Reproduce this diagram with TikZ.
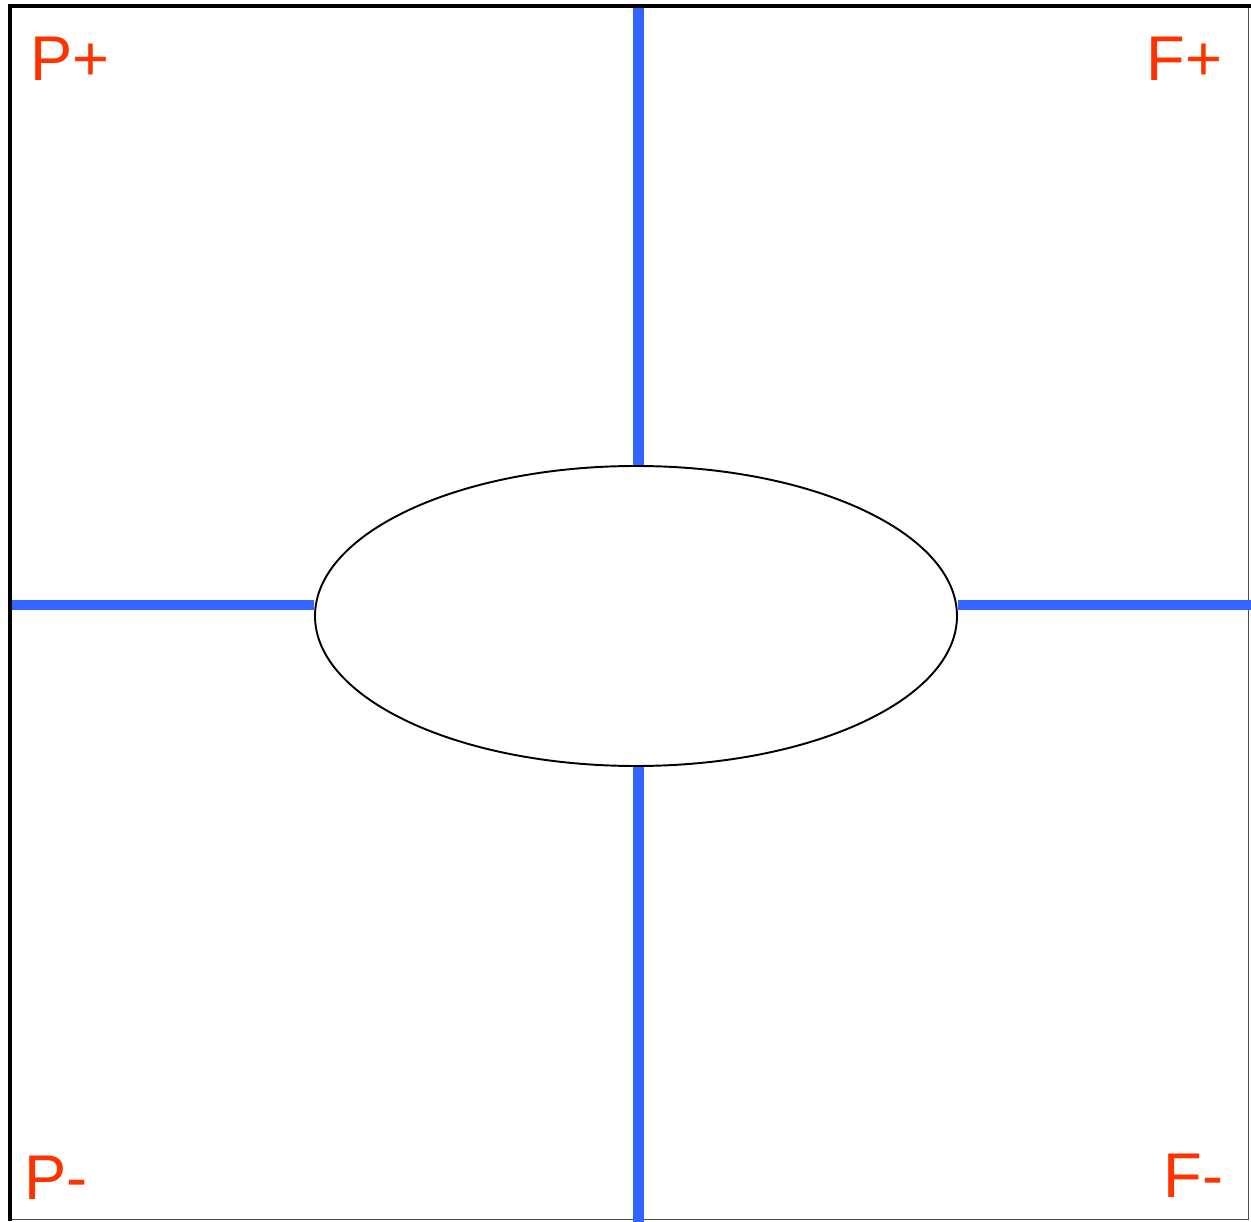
\documentclass[tikz,border=0pt]{standalone}
\usepackage{fontspec}
\setmainfont{Liberation Sans}
\usepackage{xcolor}
\usepackage{tikz}
\usetikzlibrary{calc, shapes.geometric}
\definecolor{axisblue}{HTML}{3366FF}
\definecolor{tagred}{HTML}{FF3300}

\begin{document}
\begin{tikzpicture}[x=0.02cm, y=-0.02cm,
    axis/.style={line width=6.2pt, axisblue},
    tag/.style={tagred, font=\fontsize{36}{36}\selectfont, inner sep=0pt, anchor=base west}]
    \useasboundingbox (0,0) rectangle (1251,1222);
    % frame
    \draw[line width=0.8pt, black!70] (10,6) rectangle (1248.5,1219.5);
    \draw[line width=2.6pt] (10,1221) -- (10,6) -- (1251,6);
    % centre
    \node[ellipse, draw, line width=1.1pt, minimum width=642*0.02cm, minimum height=300*0.02cm, inner sep=0pt] (core) at (636,616) {};
    \coordinate (top) at (638.5,8);
    \coordinate (bot) at (638.5,1222);
    \coordinate (lft) at (12,605);
    \coordinate (rgt) at (1251,605);
    \draw[axis] (top) -- (top |- core.north);
    \draw[axis] (bot) -- (bot |- core.south);
    \draw[axis] (lft) -- ($(core.west)+(0,-11)$);
    \draw[axis] (rgt) -- ($(core.east)+(0,-11)$);
    % labels
    \node[tag] (pplus) at (30,81) {P+};
    \node[tag] (fplus) at (1146,81) {F+};
    \node[tag] (pminus) at (24,1199) {P-};
    \node[tag] (fminus) at (1163,1197) {F-};
\end{tikzpicture}
\end{document}
